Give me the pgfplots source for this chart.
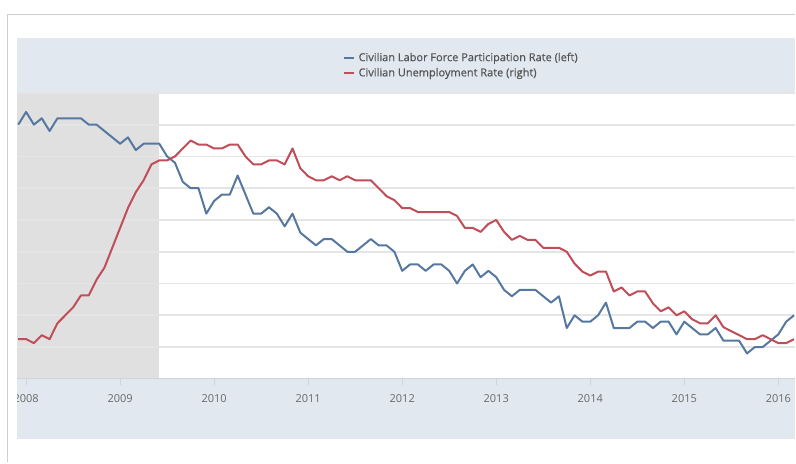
\documentclass[border=0pt]{standalone}
\usepackage{fontspec}
\setmainfont{Open Sans}
\newfontface\legfont[FakeBold=0.5]{Open Sans}
\usepackage{pgfplots}
\pgfplotsset{compat=1.18}
\usepackage{pgfplotstable}
\definecolor{lfprblue}{RGB}{86,120,160}
\definecolor{urred}{RGB}{192,78,88}
\definecolor{panel}{RGB}{225,232,240}
\definecolor{recess}{RGB}{224,224,224}
\definecolor{gridc}{RGB}{229,229,229}
\definecolor{borderc}{RGB}{205,205,205}
\definecolor{ticklab}{RGB}{105,105,105}
\definecolor{legtext}{RGB}{85,85,85}
\definecolor{axisc}{RGB}{205,214,224}

% t = months since Dec 2007; lfpr = participation rate (%); ur = unemployment rate (%)
\pgfplotstableread{
t lfpr ur
0 66.0 5.0
1 66.2 5.0
2 66.0 4.9
3 66.1 5.1
4 65.9 5.0
5 66.1 5.4
6 66.1 5.6
7 66.1 5.8
8 66.1 6.1
9 66.0 6.1
10 66.0 6.5
11 65.9 6.8
12 65.8 7.3
13 65.7 7.8
14 65.8 8.3
15 65.6 8.7
16 65.7 9.0
17 65.7 9.4
18 65.7 9.5
19 65.5 9.5
20 65.4 9.6
21 65.1 9.8
22 65.0 10.0
23 65.0 9.9
24 64.6 9.9
25 64.8 9.8
26 64.9 9.8
27 64.9 9.9
28 65.2 9.9
29 64.9 9.6
30 64.6 9.4
31 64.6 9.4
32 64.7 9.5
33 64.6 9.5
34 64.4 9.4
35 64.6 9.8
36 64.3 9.3
37 64.2 9.1
38 64.1 9.0
39 64.2 9.0
40 64.2 9.1
41 64.1 9.0
42 64.0 9.1
43 64.0 9.0
44 64.1 9.0
45 64.2 9.0
46 64.1 8.8
47 64.1 8.6
48 64.0 8.5
49 63.7 8.3
50 63.8 8.3
51 63.8 8.2
52 63.7 8.2
53 63.8 8.2
54 63.8 8.2
55 63.7 8.2
56 63.5 8.1
57 63.7 7.8
58 63.8 7.8
59 63.6 7.7
60 63.7 7.9
61 63.6 8.0
62 63.4 7.7
63 63.3 7.5
64 63.4 7.6
65 63.4 7.5
66 63.4 7.5
67 63.3 7.3
68 63.2 7.3
69 63.3 7.3
70 62.8 7.2
71 63.0 6.9
72 62.9 6.7
73 62.9 6.6
74 63.0 6.7
75 63.2 6.7
76 62.8 6.2
77 62.8 6.3
78 62.8 6.1
79 62.9 6.2
80 62.9 6.2
81 62.8 5.9
82 62.9 5.7
83 62.9 5.8
84 62.7 5.6
85 62.9 5.7
86 62.8 5.5
87 62.7 5.4
88 62.7 5.4
89 62.8 5.6
90 62.6 5.3
91 62.6 5.2
92 62.6 5.1
93 62.4 5.0
94 62.5 5.0
95 62.5 5.1
96 62.6 5.0
97 62.7 4.9
98 62.9 4.9
99 63.0 5.0
}\datatable

\pgfplotsset{
  chartgeom/.style={
    at={(16.7bp,83.7bp)}, anchor=south west,
    width=779.3bp, height=286.3bp, scale only axis,
    xmin=-0.2, xmax=99.14,
  },
}

\begin{document}
\begin{tikzpicture}[x=1bp,y=1bp]
\fill[white] (0,0) rectangle (796,463);
\fill[panel] (16.7,23) rectangle (796,83.7);
\fill[panel] (16.7,370) rectangle (796,425);

% axis 1: recession shading, grid, x ticks
\begin{axis}[
  chartgeom,
  ymin=62, ymax=66.5,
  axis on top,
  axis x line*=bottom, axis y line*=left,
  y axis line style={draw=none},
  x axis line style={draw=axisc, line width=1bp},
  xtick={1,13,25,37,49,61,73,85,97},
  xticklabels={2008,2009,2010,2011,2012,2013,2014,2015,2016},
  xtick align=outside,
  major tick length=6bp,
  x tick style={draw=axisc, line width=0.8bp},
  x tick label style={font=\fontsize{11bp}{13bp}\selectfont, text=ticklab, anchor=center, yshift=-13.5bp},
  ytick={62,62.5,63,63.5,64,64.5,65,65.5,66,66.5},
  yticklabels={\mbox{},\mbox{},\mbox{},\mbox{},\mbox{},\mbox{},\mbox{},\mbox{},\mbox{},\mbox{}},
  y tick style={draw=none},
  ymajorgrids,
  grid style={gridc, line width=1.8bp},
]
\addplot[fill=recess, draw=none] coordinates {(-0.2,62) (18,62) (18,66.5) (-0.2,66.5)} -- cycle;
\end{axis}

% axis 2: labor force participation (left scale)
\begin{axis}[
  chartgeom,
  ymin=62, ymax=66.5,
  hide axis,
]
\addplot[lfprblue, line width=2bp, line join=round] table[x=t,y=lfpr]{\datatable};
\end{axis}

% axis 3: unemployment rate (right scale) + legend
\begin{axis}[
  chartgeom,
  ymin=4, ymax=11.2,
  hide axis,
  legend style={at={(axis description cs:0.4185,1.1411)}, anchor=north west,
    draw=none, fill=none, font=\legfont\fontsize{11bp}{13bp}\selectfont, text=legtext,
    row sep=5.4bp, column sep=4bp, inner sep=0pt, nodes={inner sep=0pt}},
  legend cell align=left,
  legend image code/.code={\draw[#1, line width=2bp] (0bp,0bp) -- (10bp,0bp);},
]
\addlegendimage{lfprblue}
\addlegendentry{Civilian Labor Force Participation Rate (left)}
\addplot[urred, line width=2bp, line join=round] table[x=t,y=ur]{\datatable};
\addlegendentry{Civilian Unemployment Rate (right)}
\end{axis}

\fill[white] (0,0) rectangle (16.7,83.7);
\draw[borderc, line width=1.5bp] (7.3,0) -- (7.3,448.3) -- (796,448.3);
\end{tikzpicture}
\end{document}
